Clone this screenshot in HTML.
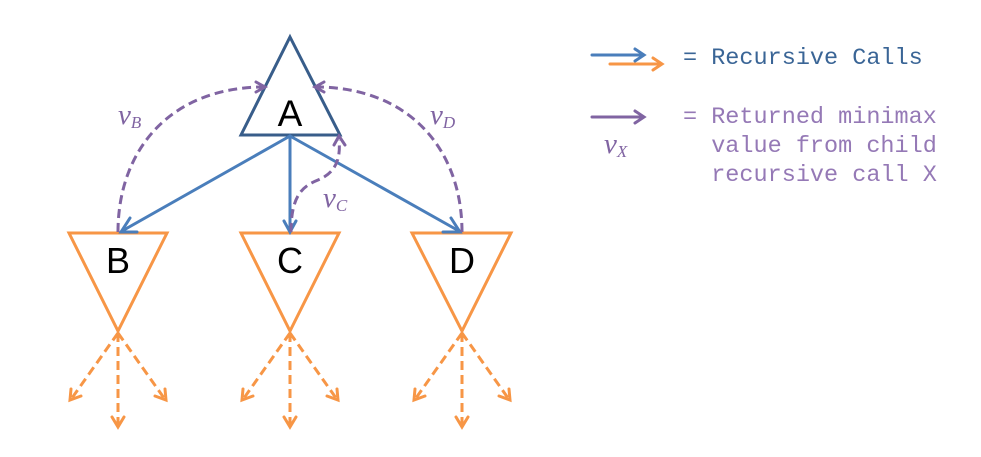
<!DOCTYPE html>
<html>
<head>
<meta charset="utf-8">
<style>
html,body{margin:0;padding:0;background:#fff;}
svg{display:block;}
</style>
</head>
<body>
<svg width="981" height="457" viewBox="0 0 981 457" xmlns="http://www.w3.org/2000/svg">

  <!-- Triangle A -->
  <polygon points="290,37 340,135 241,135" fill="#fff" stroke="#385D8A" stroke-width="3" stroke-linejoin="miter"/>
  <text x="290" y="126" font-family="Liberation Sans, sans-serif" font-size="37" text-anchor="middle" fill="#000">A</text>

  <!-- Child triangles -->
  <g fill="#fff" stroke="#F79646" stroke-width="3">
    <polygon points="69,233 167,233 118,331"/>
    <polygon points="241,233 339,233 290,331"/>
    <polygon points="412,233 511,233 462,331"/>
  </g>
  <g font-family="Liberation Sans, sans-serif" font-size="36" text-anchor="middle" fill="#000">
    <text x="118" y="273">B</text>
    <text x="290" y="273">C</text>
    <text x="462" y="273">D</text>
  </g>

  <!-- Blue arrows -->
  <g stroke="#4A7EBB" stroke-width="3" fill="none" stroke-linecap="round">
    <line x1="290" y1="136" x2="122" y2="231"/>
    <polyline points="130,218 121,232 137,232"/>
    <line x1="290" y1="136" x2="290" y2="231"/>
    <polyline points="284,221 290,232 296,221"/>
    <line x1="290" y1="136" x2="459" y2="231"/>
    <polyline points="443,232 460,232 451,218"/>
  </g>

  <!-- Purple dashed returns -->
  <g stroke="#8064A2" stroke-width="3" fill="none" stroke-dasharray="9,5">
    <path d="M118,232 C118,150 170,88 262,87"/>
    <path d="M462,232 C462,150 410,88 318,87"/>
    <path d="M291,232 C291,195 303,186 318,180 C335,173 341,160 339,140"/>
  </g>
  <g stroke="#8064A2" stroke-width="3" fill="none" stroke-linecap="round">
    <polyline points="256,82 265,87 256,92"/>
    <polyline points="324,82 315,87 324,92"/>
    <polyline points="334,145 339,136 345,145"/>
  </g>
  <g font-family="Liberation Serif, serif" font-style="italic" fill="#8064A2">
    <text x="118" y="124" font-size="29">v<tspan font-size="17" dy="4">B</tspan></text>
    <text x="430" y="124" font-size="29">v<tspan font-size="17" dy="4">D</tspan></text>
    <text x="323" y="207" font-size="29">v<tspan font-size="17" dy="4">C</tspan></text>
  </g>

  <!-- Orange dashed children -->
  <g stroke="#F79646" stroke-width="3" fill="none" stroke-dasharray="9,5">
    <line x1="118" y1="333" x2="72" y2="398"/>
    <line x1="118" y1="333" x2="118" y2="424"/>
    <line x1="118" y1="333" x2="164" y2="398"/>
    <line x1="290" y1="333" x2="244" y2="398"/>
    <line x1="290" y1="333" x2="290" y2="424"/>
    <line x1="290" y1="333" x2="336" y2="398"/>
    <line x1="462" y1="333" x2="416" y2="398"/>
    <line x1="462" y1="333" x2="462" y2="424"/>
    <line x1="462" y1="333" x2="508" y2="398"/>
  </g>
  <g stroke="#F79646" stroke-width="3" fill="none" stroke-linecap="round">
    <polyline points="71,389 70,400 81,396"/>
    <polyline points="112,417 118,427 124,417"/>
    <polyline points="155,396 166,400 165,389"/>
    <polyline points="243,389 242,400 253,396"/>
    <polyline points="284,417 290,427 296,417"/>
    <polyline points="327,396 338,400 337,389"/>
    <polyline points="415,389 414,400 425,396"/>
    <polyline points="456,417 462,427 468,417"/>
    <polyline points="499,396 510,400 509,389"/>
  </g>

  <!-- Legend -->
  <g stroke-width="3" fill="none" stroke-linecap="round">
    <line x1="592" y1="55" x2="643" y2="55" stroke="#4A7EBB"/>
    <polyline points="635,49 644,55 635,61" stroke="#4A7EBB"/>
    <line x1="610" y1="64" x2="661" y2="64" stroke="#F79646"/>
    <polyline points="653,58 662,64 653,70" stroke="#F79646"/>
    <line x1="592" y1="117" x2="643" y2="117" stroke="#8064A2"/>
    <polyline points="635,111 644,117 635,123" stroke="#8064A2"/>
  </g>
  <text x="604" y="153" font-family="Liberation Serif, serif" font-style="italic" font-size="29" fill="#8064A2">v<tspan font-size="17" dy="4">X</tspan></text>

  <g font-family="Liberation Mono, monospace" font-size="23.5">
    <text x="683" y="64" fill="#3A6596" xml:space="preserve">= Recursive Calls</text>
    <text x="683" y="123" fill="#9579B6" xml:space="preserve">= Returned minimax</text>
    <text x="683" y="152" fill="#9579B6" xml:space="preserve">  value from child</text>
    <text x="683" y="181" fill="#9579B6" xml:space="preserve">  recursive call X</text>
  </g>
</svg>
</body>
</html>
